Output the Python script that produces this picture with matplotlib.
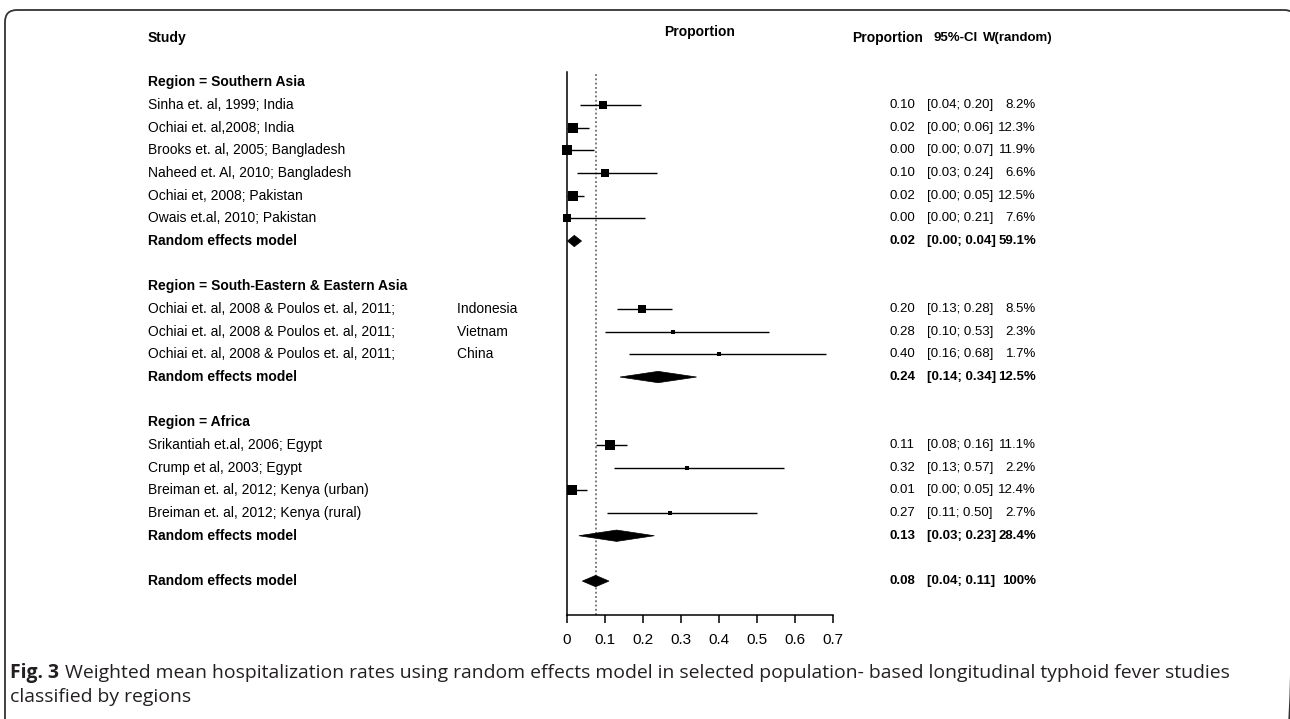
import matplotlib
matplotlib.use('Agg')
import matplotlib.pyplot as plt
from matplotlib.patches import Polygon, FancyBboxPatch

# ---------------- data ----------------
sa_labels = ["Sinha et. al, 1999; India", "Ochiai et. al,2008; India",
             "Brooks et. al, 2005; Bangladesh", "Naheed et. Al, 2010; Bangladesh",
             "Ochiai et, 2008; Pakistan", "Owais et.al, 2010; Pakistan"]
sa_est = [0.094, 0.016, 0.0, 0.100, 0.016, 0.0]
sa_lo = [0.035, 0.0, 0.0, 0.026, 0.0, 0.0]
sa_hi = [0.195, 0.058, 0.072, 0.237, 0.045, 0.206]
sa_w = [8.2, 12.3, 11.9, 6.6, 12.5, 7.6]
sa_est_txt = ["0.10", "0.02", "0.00", "0.10", "0.02", "0.00"]
sa_ci_txt = ["[0.04; 0.20]", "[0.00; 0.06]", "[0.00; 0.07]", "[0.03; 0.24]", "[0.00; 0.05]", "[0.00; 0.21]"]
sa_w_txt = ["8.2%", "12.3%", "11.9%", "6.6%", "12.5%", "7.6%"]
sa_re = [0.020, 0.002, 0.039]
sa_re_txt = ["0.02", "[0.00; 0.04]", "59.1%"]

GAP = " " * 16
se_labels = ["Ochiai et. al, 2008 & Poulos et. al, 2011;" + GAP + "Indonesia",
             "Ochiai et. al, 2008 & Poulos et. al, 2011;" + GAP + "Vietnam",
             "Ochiai et. al, 2008 & Poulos et. al, 2011;" + GAP + "China"]
se_est = [0.198, 0.28, 0.40]
se_lo = [0.133, 0.10, 0.163]
se_hi = [0.277, 0.53, 0.68]
se_w = [8.5, 2.3, 1.7]
se_est_txt = ["0.20", "0.28", "0.40"]
se_ci_txt = ["[0.13; 0.28]", "[0.10; 0.53]", "[0.16; 0.68]"]
se_w_txt = ["8.5%", "2.3%", "1.7%"]
se_re = [0.24, 0.14, 0.341]
se_re_txt = ["0.24", "[0.14; 0.34]", "12.5%"]

af_labels = ["Srikantiah et.al, 2006; Egypt", "Crump et al, 2003; Egypt",
             "Breiman et. al, 2012; Kenya (urban)", "Breiman et. al, 2012; Kenya (rural)"]
af_est = [0.113, 0.316, 0.014, 0.272]
af_lo = [0.077, 0.124, 0.0, 0.107]
af_hi = [0.159, 0.57, 0.052, 0.50]
af_w = [11.1, 2.2, 12.4, 2.7]
af_est_txt = ["0.11", "0.32", "0.01", "0.27"]
af_ci_txt = ["[0.08; 0.16]", "[0.13; 0.57]", "[0.00; 0.05]", "[0.11; 0.50]"]
af_w_txt = ["11.1%", "2.2%", "12.4%", "2.7%"]
af_re = [0.131, 0.032, 0.23]
af_re_txt = ["0.13", "[0.03; 0.23]", "28.4%"]

overall_re = [0.076, 0.041, 0.111]
overall_txt = ["0.08", "[0.04; 0.11]", "100%"]

region_names = ["Region = Southern Asia", "Region = South-Eastern & Eastern Asia", "Region = Africa"]
xticks = [0, 0.1, 0.2, 0.3, 0.4, 0.5, 0.6, 0.7]
xtick_labels = ["0", "0.1", "0.2", "0.3", "0.4", "0.5", "0.6", "0.7"]

caption_bold = "Fig. 3"
caption_line1 = "Weighted mean hospitalization rates using random effects model in selected population- based longitudinal typhoid fever studies"
caption_line2 = "classified by regions"

# ---------------- layout ----------------
W, H = 1290, 719
fig = plt.figure(figsize=(W / 100, H / 100), dpi=100)
plt.rcParams['font.family'] = ['Liberation Sans', 'DejaVu Sans']

x0_px, x7_px = 566.7, 833.3
row1_px, row_step = 105.0, 22.67
top_px, bot_px = 72.0, 615.0


def row_y(r):
    return row1_px + (r - 1) * row_step


r_top = 1 + (top_px - row1_px) / row_step
r_bot = 1 + (bot_px - row1_px) / row_step

ov = fig.add_axes([0, 0, 1, 1])
ov.set_xlim(0, W)
ov.set_ylim(H, 0)
ov.axis('off')

frame = FancyBboxPatch((5, 10), 1291, 760, boxstyle="round,pad=0,rounding_size=12",
                       fill=False, ec='#333333', lw=1.3, transform=ov.transData, clip_on=False)
ov.add_patch(frame)

ax = fig.add_axes([x0_px / W, (H - bot_px) / H, (x7_px - x0_px) / W, (bot_px - top_px) / H])
ax.set_xlim(0, 0.7)
ax.set_ylim(r_bot, r_top)
ax.patch.set_alpha(0)
for s in ['top', 'right']:
    ax.spines[s].set_visible(False)
ax.spines['left'].set_linewidth(1.1)
ax.spines['bottom'].set_linewidth(1.1)
ax.set_yticks([])
ax.set_xticks(xticks)
ax.set_xticklabels(xtick_labels, fontsize=11)
ax.tick_params(axis='x', length=6, width=1.1, pad=7)

ax.axvline(overall_re[0], color='#555555', ls=(0, (1.2, 1.6)), lw=1.1, zorder=1)

FS = 10
FSV = 9.5
lab_x = 148
est_x = 915
ci_x = 927
w_x = 1036


def draw_text_row(r, label, est_t, ci_t, w_t, bold=False):
    y = row_y(r)
    fw = 'bold' if bold else 'normal'
    if label:
        ov.text(lab_x, y, label, fontsize=FS, fontweight=fw, va='center', ha='left')
    if est_t:
        ov.text(est_x, y, est_t, fontsize=FSV, fontweight=fw, va='center', ha='right')
        ov.text(ci_x, y, ci_t, fontsize=FSV, fontweight=fw, va='center', ha='left')
        ov.text(w_x, y, w_t, fontsize=FSV, fontweight=fw, va='center', ha='right')


def draw_study(r, est, lo, hi, w):
    ax.plot([lo, hi], [r, r], color='black', lw=1.0, zorder=2, solid_capstyle='butt')
    side_px = max(2.9 * w ** 0.5, 4.5)
    ax.plot([est], [r], marker='s', color='black', ms=side_px * 0.72, mew=0, zorder=3,
            clip_on=False)


def draw_diamond(r, est, lo, hi):
    h = 0.25
    ax.add_patch(Polygon([(lo, r), (est, r - h), (hi, r), (est, r + h)], closed=True,
                         fc='black', ec='black', lw=0.5, zorder=3))


# headers
hy = row_y(-2)
ov.text(lab_x, hy + 1, "Study", fontsize=FS, fontweight='bold', va='center', ha='left')
ov.text((x0_px + x7_px) / 2, hy - 5, "Proportion", fontsize=FS, fontweight='bold', va='center', ha='center')
ov.text(923, hy + 1, "Proportion", fontsize=FS, fontweight='bold', va='center', ha='right')
ov.text(978, hy + 1, "95%-CI", fontsize=FSV, fontweight='bold', va='center', ha='right')
ov.text(983, hy + 1, "W(random)", fontsize=FSV, fontweight='bold', va='center', ha='left')

groups = [
    (sa_labels, sa_est, sa_lo, sa_hi, sa_w, sa_est_txt, sa_ci_txt, sa_w_txt, sa_re, sa_re_txt),
    (se_labels, se_est, se_lo, se_hi, se_w, se_est_txt, se_ci_txt, se_w_txt, se_re, se_re_txt),
    (af_labels, af_est, af_lo, af_hi, af_w, af_est_txt, af_ci_txt, af_w_txt, af_re, af_re_txt),
]

r = 0
for gname, g in zip(region_names, groups):
    labels, est, lo, hi, wts, et, ct, wt, re, ret = g
    draw_text_row(r, gname, None, None, None, bold=True)
    r += 1
    for i in range(len(labels)):
        draw_text_row(r, labels[i], et[i], ct[i], wt[i])
        draw_study(r, est[i], lo[i], hi[i], wts[i])
        r += 1
    draw_text_row(r, "Random effects model", ret[0], ret[1], ret[2], bold=True)
    draw_diamond(r, re[0], re[1], re[2])
    r += 2

draw_text_row(r, "Random effects model", overall_txt[0], overall_txt[1], overall_txt[2], bold=True)
draw_diamond(r, overall_re[0], overall_re[1], overall_re[2])

# caption: size fitted so the first line ends near x=1232
cap_font = ['Open Sans', 'DejaVu Sans']
cx, cy1, cy2 = 10, 673, 697
target_right = 1232
cap_fs = 12.5
tb = ov.text(cx, cy1, caption_bold, fontsize=cap_fs, fontweight='bold', family=cap_font,
             va='center', ha='left', color='#231f20')
tr = ov.text(0, cy1, caption_line1, fontsize=cap_fs, family=cap_font, va='center', ha='left',
             color='#231f20')
fig.canvas.draw()
rend = fig.canvas.get_renderer()
wb = tb.get_window_extent(rend).width
wr = tr.get_window_extent(rend).width
scale = (target_right - cx) / (wb + wr + 5)
cap_fs *= scale
tb.set_fontsize(cap_fs)
tr.set_fontsize(cap_fs)
fig.canvas.draw()
bb = tb.get_window_extent(rend)
tr.set_x(bb.x1 + 5 * scale)
ov.text(cx, cy2, caption_line2, fontsize=cap_fs, family=cap_font, va='center', ha='left',
        color='#231f20')

fig.savefig('out.png', dpi=100)
